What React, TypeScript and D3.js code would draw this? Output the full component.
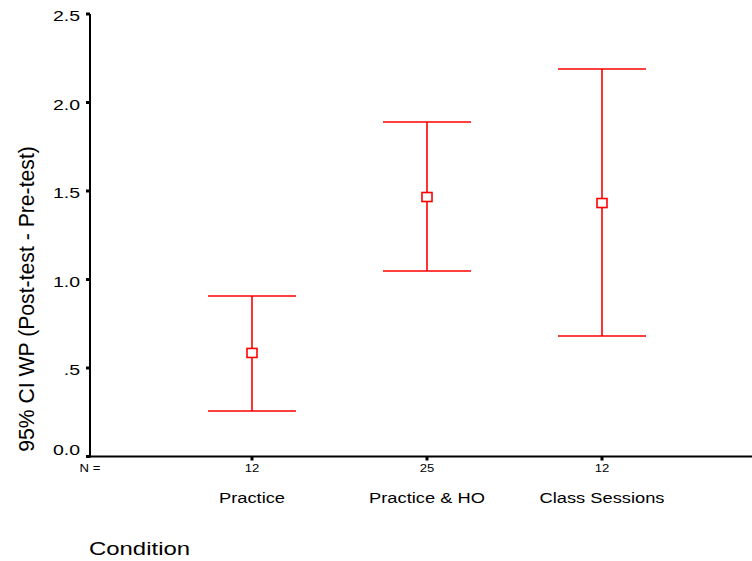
import { useEffect, useRef } from 'react';
import * as d3 from 'd3';

const categories = ['Practice', 'Practice & HO', 'Class Sessions'];
const counts = [12, 25, 12];
const means = [0.585, 1.466, 1.432];
const lower = [0.257, 1.048, 0.681];
const upper = [0.907, 1.89, 2.189];
const yTicks = [0, 0.5, 1.0, 1.5, 2.0, 2.5];

const W = 752;
const H = 561;
const FONT = 'Liberation Sans, Arial, sans-serif';
const RED = '#FF0000';

export default function App() {
  const svgRef = useRef<SVGSVGElement>(null);

  useEffect(() => {
    if (!svgRef.current) return;
    const svg = d3.select(svgRef.current);
    svg.selectAll('*').remove();

    const axisX = 90;
    const axisY = 456.5;

    const y = d3.scaleLinear().domain([0, 2.5]).range([axisY, 14]);
    const x = d3.scalePoint<string>().domain(categories).range([252, 602]);

    // text helper: the original glyphs are a bit wider than Arial
    const label = (
      tx: number, ty: number, txt: string | number, size: number,
      anchor: string, sx = 1, sy = 1, rot = 0,
    ) =>
      svg.append('text')
        .attr('transform', `translate(${tx},${ty}) rotate(${rot}) scale(${sx},${sy})`)
        .attr('text-anchor', anchor)
        .style('font-family', FONT)
        .style('font-size', `${size}px`)
        .style('fill', '#000')
        .text(txt);

    // Axes lines
    svg.append('line')
      .attr('x1', axisX).attr('x2', axisX)
      .attr('y1', y(2.5)).attr('y2', axisY + 1)
      .attr('stroke', '#000').attr('stroke-width', 2);
    svg.append('line')
      .attr('x1', axisX - 1).attr('x2', W)
      .attr('y1', axisY).attr('y2', axisY)
      .attr('stroke', '#000').attr('stroke-width', 2);

    // Y ticks (the 0.0 label is lifted off the x axis)
    const fmt = (v: number) => (v === 0.5 ? '.5' : v.toFixed(1));
    yTicks.forEach((t) => {
      svg.append('rect')
        .attr('x', axisX - 4).attr('y', y(t) - 1.5)
        .attr('width', 4).attr('height', 3)
        .attr('fill', '#000');
      const by = t === 0 ? y(t) - 1.5 : y(t) + 7;
      label(80, by, fmt(t), 15, 'end', 1.3, 1);
    });

    // X ticks, N labels, category labels
    label(90, 472, 'N =', 10.5, 'middle', 1.25, 1);

    categories.forEach((c, i) => {
      const cx = x(c)!;
      svg.append('rect')
        .attr('x', cx - 1.5).attr('y', axisY)
        .attr('width', 3).attr('height', 4)
        .attr('fill', '#000');
      label(cx, 472, counts[i], 10.5, 'middle', 1.25, 1);
      label(cx, 503, c, 15, 'middle', 1.22, 1);
    });

    // Error bars
    const cap = 44;
    const g = svg.append('g').attr('stroke', RED).attr('stroke-width', 1.6).attr('fill', 'none');
    categories.forEach((c, i) => {
      const cx = x(c)!;
      g.append('line')
        .attr('x1', cx).attr('x2', cx)
        .attr('y1', y(upper[i])).attr('y2', y(lower[i]));
      g.append('line')
        .attr('x1', cx - cap).attr('x2', cx + cap)
        .attr('y1', y(upper[i])).attr('y2', y(upper[i]));
      g.append('line')
        .attr('x1', cx - cap).attr('x2', cx + cap)
        .attr('y1', y(lower[i])).attr('y2', y(lower[i]));
      g.append('rect')
        .attr('x', cx - 5).attr('y', y(means[i]) - 4.5)
        .attr('width', 10).attr('height', 9)
        .attr('fill', '#fff');
    });

    // Y axis title
    label(34, 299, '95% CI WP (Post-test - Pre-test)', 20, 'middle', 1.06, 1.12, -90);

    // X axis title
    label(89, 555, 'Condition', 18, 'start', 1.33, 1);
  }, []);

  return (
    <svg
      ref={svgRef}
      width={W}
      height={H}
      style={{ position: 'absolute', left: 0, top: 0, background: '#fff' }}
    />
  );
}
